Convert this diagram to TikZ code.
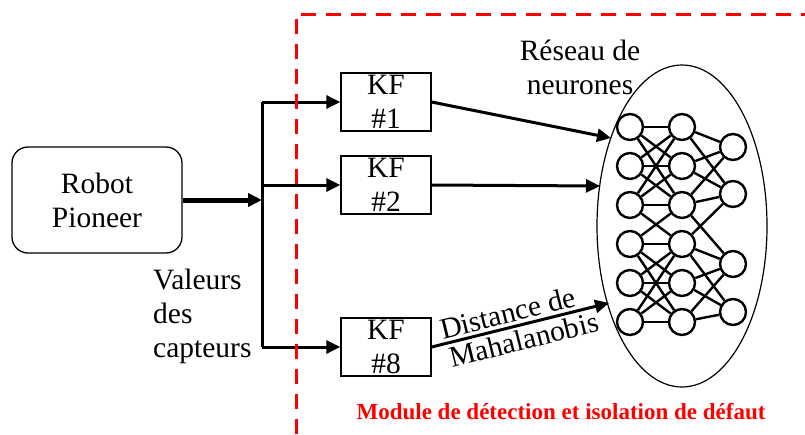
\documentclass[tikz,border=0pt]{standalone}
\usepackage{fontspec}
\setmainfont{Liberation Serif}
\usetikzlibrary{arrows.meta,shapes.geometric}

\tikzset{
  txt/.style={font=\fontsize{29.5}{34}\selectfont, align=center, inner sep=0pt},
  kfbox/.style={txt, draw, line width=1.3pt, minimum width=90pt, minimum height=58pt},
  bus/.style={line width=3pt},
  tip/.style={-{Triangle[length=14pt,width=13pt]}},
  neuron/.style={circle, draw, fill=white, line width=2.4pt, minimum size=26pt, inner sep=0pt},
  syn/.style={line width=2.4pt},
  frontier/.style={red, line width=3pt, dash pattern=on 15pt off 10pt}
}

\begin{document}
\begin{tikzpicture}[x=1pt,y=-1pt]
\useasboundingbox (0,0) rectangle (805,434);

% robot and filter bank
\node[txt, draw, line width=1.3pt, rounded corners=16pt, minimum width=170pt, minimum height=106pt] (robot) at (97,200) {Robot\\Pioneer};
\node[kfbox] (kf1) at (386,102) {KF\\\#1};
\node[kfbox] (kf2) at (386,185) {KF\\\#2};
\node[kfbox] (kf8) at (386,347) {KF\\\#8};

\coordinate (split) at (262,200);
\coordinate (j1) at (262,102);
\coordinate (j2) at (262,185);
\coordinate (j8) at (262,347);
\draw[line width=5pt, tip] (robot.east) -- (split);
\draw[bus] (j1) -- (j8);
\draw[bus, tip] (j1) -- (kf1.west);
\draw[bus, tip] (j2) -- (kf2.west);
\draw[bus, tip] (j8) -- (kf8.west);
\node[txt, align=left, anchor=north west] (mes) at (153,269) {Valeurs\\des\\capteurs};

% module boundary
\draw[frontier] (296,434) -- (296,14) -- (805,14);

% neural network
\node[draw, ellipse, line width=1.2pt, minimum width=170pt, minimum height=322pt] (rn) at (682,226) {};
\node[txt, anchor=north] (rnlab) at (580,40) {Réseau de\\neurones};
\foreach \i/\y in {1/127,2/166,3/205,4/244,5/283,6/322} {
  \node[neuron] (a\i) at (630,\y) {};
  \node[neuron] (b\i) at (682,\y) {};
}
\foreach \i/\y in {1/147,2/194,3/264,4/312}
  \node[neuron] (c\i) at (733,\y) {};
\foreach \i in {1,2,3} \foreach \j in {1,2,3} \draw[syn] (a\i) -- (b\j);
\foreach \i in {4,5,6} \foreach \j in {4,5,6} \draw[syn] (a\i) -- (b\j);
\draw[syn] (a3) -- (b4) (a4) -- (b3);
\foreach \i in {1,2,3} \foreach \j in {1,2} \draw[syn] (b\i) -- (c\j);
\foreach \i in {4,5,6} \foreach \j in {3,4} \draw[syn] (b\i) -- (c\j);
\draw[syn] (b3) -- (c3) (b4) -- (c2);

% filter outputs
\coordinate (in1) at (611,138);
\coordinate (in2) at (600,186);
\coordinate (in8) at (609,303);
\draw[bus, tip] (kf1.east) -- (in1);
\draw[bus, tip] (kf2.east) -- (in2);
\draw[bus, tip] (kf8.east) -- (in8)
  node[txt, sloped, above=3pt, pos=0.45] (dist) {Distance de}
  node[txt, sloped, below=3pt, pos=0.5] (maha) {Mahalanobis};

\node[red, font=\bfseries\fontsize{23}{26}\selectfont, anchor=base, inner sep=0pt] (module) at (561,419) {Module de détection et isolation de défaut};
\end{tikzpicture}
\end{document}
